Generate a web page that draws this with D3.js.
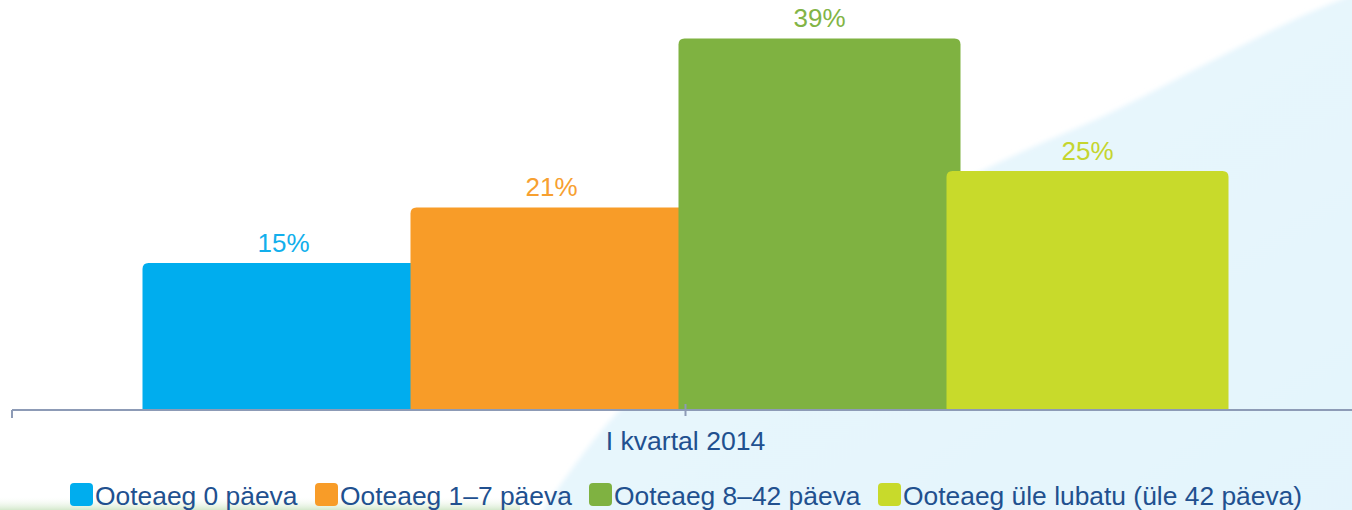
<!DOCTYPE html>
<html><head><meta charset="utf-8">
<script src="https://cdn.jsdelivr.net/npm/d3@7"></script>
<style>html,body{margin:0;padding:0;background:#fff;overflow:hidden}svg{display:block}</style>
</head><body>
<svg id="c" width="1352" height="510"></svg>
<script>
const categories = ["I kvartal 2014"];
const seriesNames = ["Ooteaeg 0 päeva", "Ooteaeg 1–7 päeva", "Ooteaeg 8–42 päeva", "Ooteaeg üle lubatu (üle 42 päeva)"];
const seriesValues = [15.3, 21.1, 38.7, 24.9];
const valueLabels = ["15%", "21%", "39%", "25%"];
const seriesColors = ["#00adee", "#f89c28", "#7fb241", "#c8da2b"];
const labelColors = ["#12afec", "#f7a030", "#82b446", "#c5d52e"];

const W = 1352, H = 510;
const svg = d3.select("#c");
const font = "'Liberation Sans', Arial, sans-serif";

// background decoration
const defs = svg.append("defs");
const bg = defs.append("linearGradient").attr("id","bgblue").attr("x1","0").attr("y1","0").attr("x2","1").attr("y2","1");
bg.append("stop").attr("offset","0").attr("stop-color","#eaf7fd");
bg.append("stop").attr("offset","1").attr("stop-color","#e3f4fc");
const gg = defs.append("linearGradient").attr("id","bggreen").attr("x1","0").attr("y1","0").attr("x2","0").attr("y2","1");
gg.append("stop").attr("offset","0").attr("stop-color","#ffffff").attr("stop-opacity",0);
gg.append("stop").attr("offset","1").attr("stop-color","#cfe6c6").attr("stop-opacity",0.9);
defs.append("filter").attr("id","soft").attr("x","-0.1").attr("y","-0.1").attr("width","1.2").attr("height","1.2")
  .append("feGaussianBlur").attr("stdDeviation",2.5);

const curvePts = [[1360,-8],[1300,17],[1200,67],[1110,113],[1000,162],[880,225],[740,320],[620,410],[540,515]];
svg.append("path")
  .attr("d", d3.line().curve(d3.curveCatmullRom)(curvePts) + "L1380,530L1380,-20Z")
  .attr("fill","url(#bgblue)")
  .attr("filter","url(#soft)");
svg.append("rect").attr("x",0).attr("y",496).attr("width",520).attr("height",14).attr("fill","url(#bggreen)");

// scales
const x0 = d3.scaleBand().domain(categories).range([12, 1359]);
const groupLeft = 142.5, step = 268;
const x1 = d3.scaleBand().domain(seriesNames).range([groupLeft, groupLeft + step * seriesNames.length]);
const overlap = 14;
const y = d3.scaleLinear().domain([0, 40]).range([410, 26]);

const r = 6;
function topRounded(x, yTop, w, yBot, rr) {
  return `M${x},${yBot}V${yTop+rr}Q${x},${yTop} ${x+rr},${yTop}H${x+w-rr}Q${x+w},${yTop} ${x+w},${yTop+rr}V${yBot}Z`;
}

const data = seriesNames.map((s,i)=>({name:s, value:seriesValues[i], label:valueLabels[i], color:seriesColors[i], lc:labelColors[i]}));

svg.append("g").selectAll("path").data(data).join("path")
  .attr("d", d => topRounded(x1(d.name), y(d.value), x1.bandwidth() + overlap, y(0), r))
  .attr("fill", d => d.color);

svg.append("g").selectAll("text").data(data).join("text")
  .attr("x", d => x1(d.name) + (x1.bandwidth() + overlap) / 2)
  .attr("y", d => y(d.value) - 11)
  .attr("text-anchor","middle")
  .attr("font-family", font).attr("font-size", 26)
  .attr("fill", d => d.lc)
  .text(d => d.label);

// axis
const axisG = svg.append("g").attr("transform","translate(0,410)")
  .call(d3.axisBottom(x0).tickSize(0).tickFormat(""));
axisG.select(".domain").attr("stroke","#8d9bb6").attr("stroke-width",2).attr("d","M12,0H1360");
axisG.append("line").attr("x1",12).attr("x2",12).attr("y1",0).attr("y2",8).attr("stroke","#8d9bb6").attr("stroke-width",2);
axisG.append("line").attr("x1",x0(categories[0])+x0.bandwidth()/2).attr("x2",x0(categories[0])+x0.bandwidth()/2).attr("y1",-6).attr("y2",6).attr("stroke","#8d9bb6").attr("stroke-width",2);

svg.append("g").selectAll("text").data(categories).join("text")
  .attr("x", d => x0(d) + x0.bandwidth()/2)
  .attr("y", 450)
  .attr("text-anchor","middle")
  .attr("font-family", font).attr("font-size", 26.6)
  .attr("fill","#21508f")
  .text(d => d);

// legend
const legendX = [70, 315, 589, 878];
const lg = svg.append("g").selectAll("g").data(data).join("g")
  .attr("transform", (d,i) => `translate(${legendX[i]},483)`);
lg.append("rect").attr("width",23).attr("height",23).attr("rx",4).attr("fill", d => d.color);
lg.append("text").attr("x",25).attr("y",22)
  .attr("font-family", font).attr("font-size", 26.4)
  .attr("fill","#21508f")
  .text(d => d.name);
</script>
</body></html>
